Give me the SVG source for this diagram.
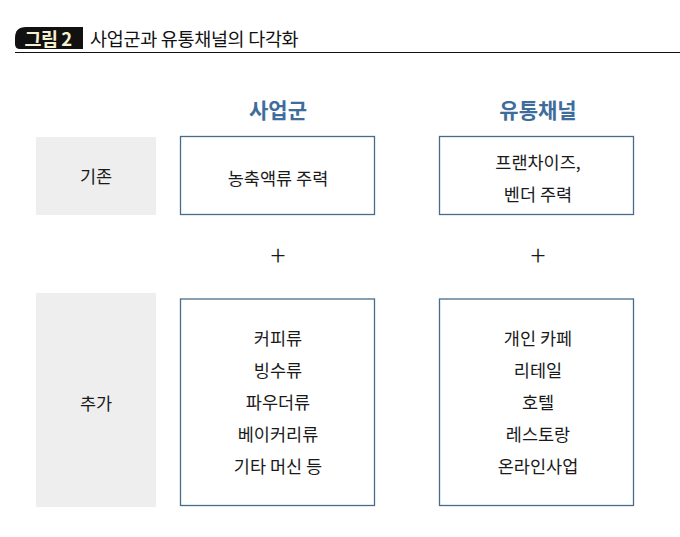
<svg xmlns="http://www.w3.org/2000/svg" width="680" height="537" viewBox="0 0 680 537">
<style>
text{font-family:"Noto Sans CJK KR","Noto Sans",sans-serif;}
.lbl{font-size:17.5px;fill:#1a1a1a;text-anchor:middle;}
.hdr{font-size:21px;font-weight:bold;fill:#3e6d9c;text-anchor:middle;}
.gray{fill:#eeeeee;}
.box{fill:#ffffff;stroke:#456c8a;stroke-width:1.3;}
.plus{font-size:28px;font-weight:300;fill:#1a1a1a;text-anchor:middle;}
</style>
<rect width="680" height="537" fill="#ffffff"/>
<g id="title">
<path d="M26,27 H83 V49 H20 Q15,49 15,44 V38 Q15,27 26,27 Z" fill="#111111"/>
<text x="48" y="45.5" font-size="18.5" font-weight="bold" fill="#f7f0d2" text-anchor="middle" letter-spacing="-0.5">그림 2</text>
<text x="90" y="46" font-size="18.5" fill="#111111" letter-spacing="-0.3">사업군과 유통채널의 다각화</text>
<line x1="15" y1="52.5" x2="680" y2="52.5" stroke="#111111" stroke-width="1.2"/>
</g>
<g id="header-business">
<text class="hdr" x="278" y="118">사업군</text>
</g>
<g id="header-channel">
<text class="hdr" x="538" y="118">유통채널</text>
</g>
<g id="row-existing">
<rect class="gray" x="36" y="137" width="120" height="78"/>
<text class="lbl" x="96" y="183">기존</text>
</g>
<g id="row-added">
<rect class="gray" x="36" y="293" width="120" height="214"/>
<text class="lbl" x="96" y="410">추가</text>
</g>
<g id="biz-existing">
<rect class="box" x="180.5" y="136.5" width="194" height="78"/>
<text class="lbl" x="278" y="185">농축액류 주력</text>
</g>
<g id="channel-existing">
<rect class="box" x="439.5" y="136.5" width="194" height="78"/>
<text class="lbl" x="538" y="169">프랜차이즈,</text>
<text class="lbl" x="538" y="201">벤더 주력</text>
</g>
<g id="plus-signs">
<text class="plus" x="278" y="266">+</text>
<text class="plus" x="538" y="266">+</text>
</g>
<g id="biz-added">
<rect class="box" x="180.5" y="299" width="194" height="206.5"/>
<text class="lbl" x="278" y="345">커피류</text>
<text class="lbl" x="278" y="377">빙수류</text>
<text class="lbl" x="278" y="409">파우더류</text>
<text class="lbl" x="278" y="441">베이커리류</text>
<text class="lbl" x="278" y="473">기타 머신 등</text>
</g>
<g id="channel-added">
<rect class="box" x="439.5" y="299" width="194" height="206.5"/>
<text class="lbl" x="538" y="345">개인 카페</text>
<text class="lbl" x="538" y="377">리테일</text>
<text class="lbl" x="538" y="409">호텔</text>
<text class="lbl" x="538" y="441">레스토랑</text>
<text class="lbl" x="538" y="473">온라인사업</text>
</g>
<g id="connectors"></g>
</svg>
